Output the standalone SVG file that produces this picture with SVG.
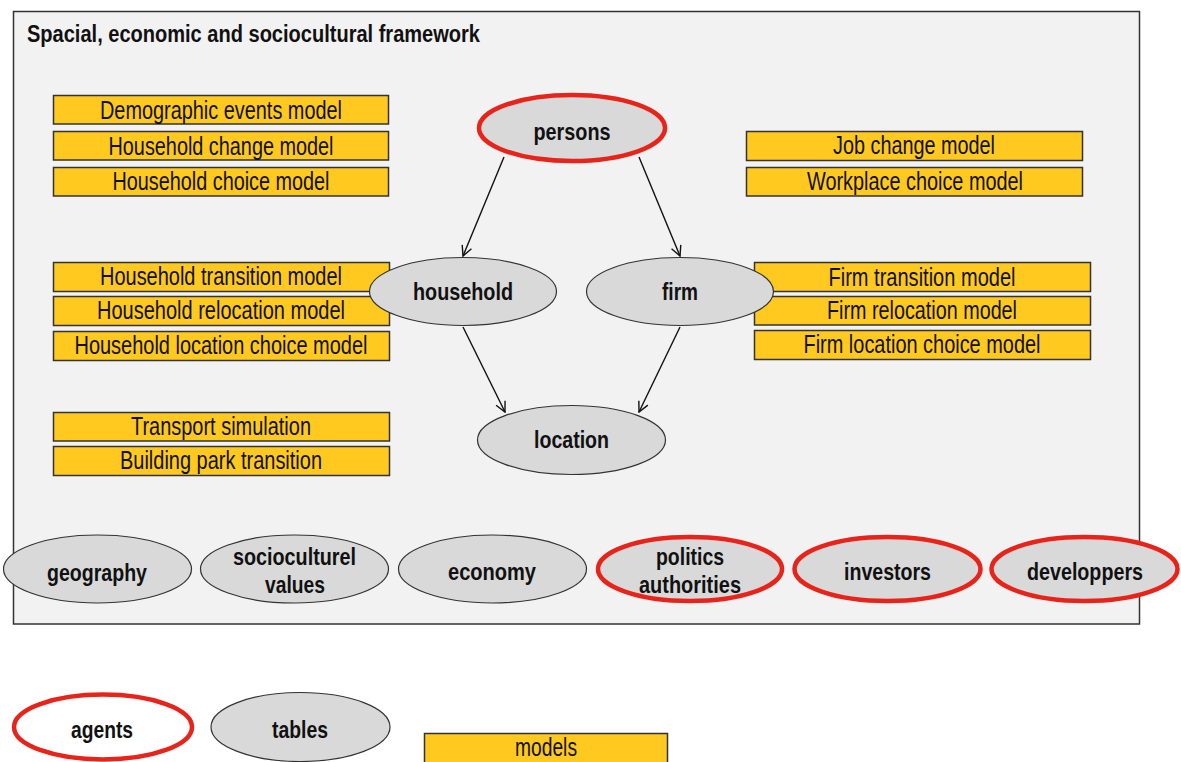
<svg xmlns="http://www.w3.org/2000/svg" width="1181" height="762" viewBox="0 0 1181 762">
<style>
.t{font-family:"Liberation Sans Narrow","Liberation Sans",Arial,sans-serif;font-size:25px;fill:#111;text-anchor:middle}
.b{font-weight:bold;font-size:24.5px}
.box{fill:#ffc91f;stroke:#333;stroke-width:1.5}
.tab{fill:#d9d9d9;stroke:#333;stroke-width:1.2}
.ag{fill:#d9d9d9;stroke:#e8231a;stroke-width:4.5}
.con{stroke:#111;stroke-width:1.4;fill:none;marker-end:url(#arr)}
</style>
<defs>
<marker id="arr" viewBox="0 0 12 12" refX="11" refY="6" markerWidth="12" markerHeight="12" markerUnits="userSpaceOnUse" orient="auto">
<path d="M1,1 L11,6 L1,11" fill="none" stroke="#111" stroke-width="1.4"/>
</marker>
</defs>
<rect x="0" y="0" width="1181" height="762" fill="#fff"/>
<g id="frame">
<rect x="13.5" y="11.5" width="1126" height="612.5" fill="#f2f2f2" stroke="#333" stroke-width="1.5"/>
<text class="t b" x="27" y="42" style="text-anchor:start;font-size:23px" textLength="453" lengthAdjust="spacingAndGlyphs">Spacial, economic and sociocultural framework</text>
</g>
<g id="m-demographic"><rect class="box" x="53.5" y="95.5" width="335" height="28.5"/><text class="t" x="221" y="119" textLength="242" lengthAdjust="spacingAndGlyphs">Demographic events model</text></g>
<g id="m-hhchange"><rect class="box" x="53.5" y="131.5" width="335" height="28.5"/><text class="t" x="221" y="155" textLength="225" lengthAdjust="spacingAndGlyphs">Household change model</text></g>
<g id="m-hhchoice"><rect class="box" x="53.5" y="167.5" width="335" height="28.5"/><text class="t" x="221" y="190" textLength="217" lengthAdjust="spacingAndGlyphs">Household choice model</text></g>
<g id="m-hhtrans"><rect class="box" x="53.5" y="262.5" width="336" height="29"/><text class="t" x="221" y="285" textLength="242" lengthAdjust="spacingAndGlyphs">Household transition model</text></g>
<g id="m-hhreloc"><rect class="box" x="53.5" y="296.5" width="336" height="29"/><text class="t" x="221" y="319" textLength="248" lengthAdjust="spacingAndGlyphs">Household relocation model</text></g>
<g id="m-hhloc"><rect class="box" x="53.5" y="331.5" width="336" height="29"/><text class="t" x="221" y="354" textLength="293" lengthAdjust="spacingAndGlyphs">Household location choice model</text></g>
<g id="m-transport"><rect class="box" x="53.5" y="412.5" width="336" height="28.5"/><text class="t" x="221" y="435" textLength="180" lengthAdjust="spacingAndGlyphs">Transport simulation</text></g>
<g id="m-building"><rect class="box" x="53.5" y="446.5" width="336" height="29"/><text class="t" x="221" y="469" textLength="202" lengthAdjust="spacingAndGlyphs">Building park transition</text></g>
<g id="m-job"><rect class="box" x="746.5" y="131.5" width="336" height="29"/><text class="t" x="914" y="154" textLength="162" lengthAdjust="spacingAndGlyphs">Job change model</text></g>
<g id="m-workplace"><rect class="box" x="746.5" y="167.5" width="336" height="28.5"/><text class="t" x="915" y="190" textLength="216" lengthAdjust="spacingAndGlyphs">Workplace choice model</text></g>
<g id="m-firmtrans"><rect class="box" x="754.5" y="262.5" width="336" height="29"/><text class="t" x="922" y="286" textLength="187" lengthAdjust="spacingAndGlyphs">Firm transition model</text></g>
<g id="m-firmreloc"><rect class="box" x="754.5" y="296.5" width="336" height="28.5"/><text class="t" x="922" y="319" textLength="190" lengthAdjust="spacingAndGlyphs">Firm relocation model</text></g>
<g id="m-firmloc"><rect class="box" x="754.5" y="330.5" width="336" height="29"/><text class="t" x="922" y="353" textLength="237" lengthAdjust="spacingAndGlyphs">Firm location choice model</text></g>
<g id="connectors">
<line class="con" x1="504" y1="157" x2="463" y2="256"/>
<line class="con" x1="639" y1="157" x2="680" y2="256"/>
<line class="con" x1="463" y1="327" x2="505" y2="412"/>
<line class="con" x1="680" y1="327" x2="639" y2="412"/>
</g>
<g id="n-persons"><ellipse class="ag" cx="572" cy="128" rx="93" ry="33"/><text class="t b" x="572" y="140" textLength="77" lengthAdjust="spacingAndGlyphs">persons</text></g>
<g id="n-household"><ellipse class="tab" cx="463" cy="291.5" rx="93.5" ry="34"/><text class="t b" x="463" y="300" textLength="100" lengthAdjust="spacingAndGlyphs">household</text></g>
<g id="n-firm"><ellipse class="tab" cx="680" cy="291.5" rx="93.5" ry="34"/><text class="t b" x="680" y="300" textLength="36" lengthAdjust="spacingAndGlyphs">firm</text></g>
<g id="n-location"><ellipse class="tab" cx="571.5" cy="440" rx="94" ry="34.5"/><text class="t b" x="571.5" y="448" textLength="75" lengthAdjust="spacingAndGlyphs">location</text></g>
<g id="n-geography"><ellipse class="tab" cx="97.5" cy="569" rx="94" ry="34"/><text class="t b" x="97" y="581" textLength="100" lengthAdjust="spacingAndGlyphs">geography</text></g>
<g id="n-socio"><ellipse class="tab" cx="294.5" cy="569" rx="94" ry="34"/><text class="t b" x="294.5" y="565" textLength="123" lengthAdjust="spacingAndGlyphs">socioculturel</text><text class="t b" x="295" y="593" textLength="60" lengthAdjust="spacingAndGlyphs">values</text></g>
<g id="n-economy"><ellipse class="tab" cx="492.5" cy="569" rx="94" ry="34"/><text class="t b" x="492" y="580" textLength="88" lengthAdjust="spacingAndGlyphs">economy</text></g>
<g id="n-politics"><ellipse class="ag" cx="690" cy="569" rx="92" ry="32"/><text class="t b" x="690" y="565" textLength="68" lengthAdjust="spacingAndGlyphs">politics</text><text class="t b" x="690" y="593" textLength="102" lengthAdjust="spacingAndGlyphs">authorities</text></g>
<g id="n-investors"><ellipse class="ag" cx="887.5" cy="569" rx="93" ry="32"/><text class="t b" x="887.5" y="580" textLength="87" lengthAdjust="spacingAndGlyphs">investors</text></g>
<g id="n-developpers"><ellipse class="ag" cx="1084.5" cy="569" rx="93" ry="32"/><text class="t b" x="1085" y="580" textLength="116" lengthAdjust="spacingAndGlyphs">developpers</text></g>
<g id="legend-agents"><ellipse cx="103" cy="727" rx="89" ry="32.5" fill="#fff" stroke="#e8231a" stroke-width="4.5"/><text class="t b" x="102" y="738" textLength="62" lengthAdjust="spacingAndGlyphs">agents</text></g>
<g id="legend-tables"><ellipse class="tab" cx="300.5" cy="727" rx="89.5" ry="34.5"/><text class="t b" x="300" y="738" textLength="56" lengthAdjust="spacingAndGlyphs">tables</text></g>
<g id="legend-models"><rect class="box" x="424.5" y="733.5" width="243" height="34"/><text class="t" x="546" y="756" textLength="62" lengthAdjust="spacingAndGlyphs">models</text></g>
</svg>
